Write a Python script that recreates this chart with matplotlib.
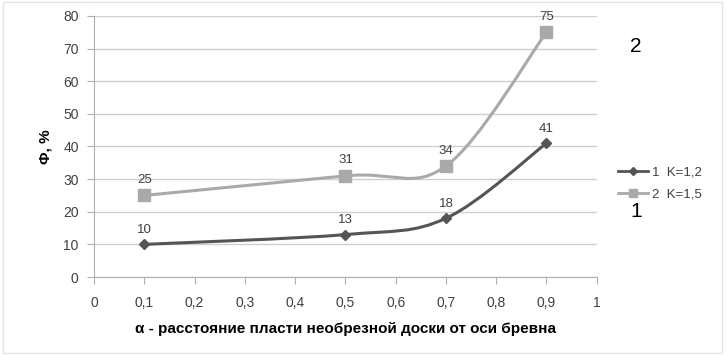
import numpy as np
import matplotlib.pyplot as plt
from matplotlib.path import Path
from matplotlib.patches import PathPatch, Rectangle
from matplotlib.lines import Line2D

plt.rcParams['font.family'] = ['Liberation Sans', 'DejaVu Sans']

x = [0.1, 0.5, 0.7, 0.9]
k12 = [10, 13, 18, 41]
k15 = [25, 31, 34, 75]
xticks = [0, 0.1, 0.2, 0.3, 0.4, 0.5, 0.6, 0.7, 0.8, 0.9, 1]
yticks = [0, 10, 20, 30, 40, 50, 60, 70, 80]


def smooth_path(xs, ys):
    """ Excel-like smoothed line as cubic bezier path """
    pts = np.column_stack([xs, ys]).astype(float)
    verts = [pts[0]]
    codes = [Path.MOVETO]
    n = len(pts)
    for i in range(n - 1):
        p0 = pts[i - 1] if i > 0 else pts[i]
        p1 = pts[i]
        p2 = pts[i + 1]
        p3 = pts[i + 2] if i + 2 < n else pts[i + 1]
        c1 = p1 + (p2 - p0) / 6
        c2 = p2 - (p3 - p1) / 6
        verts += [c1, c2, p2]
        codes += [Path.CURVE4] * 3
    return Path(verts, codes)


fig = plt.figure(figsize=(7.26, 3.55), dpi=100)
ax = fig.add_axes([0.1295, 0.2197, 0.6925, 0.7353])
fig.patches.append(Rectangle((0.004, 0.005), 0.99, 0.99, transform=fig.transFigure,
                             fill=False, edgecolor='#e4e4e4', lw=1))

c1, c2 = '#555555', '#a9a9a9'
ax.add_patch(PathPatch(smooth_path(x, k12), fill=False, edgecolor=c1, lw=2.2))
ax.add_patch(PathPatch(smooth_path(x, k15), fill=False, edgecolor=c2, lw=2.2))
ax.plot(x, k12, 'D', color=c1, ms=5.5, ls='None')
ax.plot(x, k15, 's', color=c2, ms=8, ls='None')

for xi, yi in zip(x, k12):
    ax.annotate(str(yi), (xi, yi), textcoords='offset points', xytext=(0, 8),
                ha='center', fontsize=9.5, color='#404040')
for xi, yi in zip(x, k15):
    ax.annotate(str(yi), (xi, yi), textcoords='offset points', xytext=(0, 9),
                ha='center', fontsize=9.5, color='#404040')

ax.set_xlim(0, 1)
ax.set_ylim(0, 80)
ax.set_xticks(xticks)
ax.set_xticklabels([str(t).replace('.', ',') for t in xticks])
ax.set_yticks(yticks)
ax.grid(axis='y', color='#cfcfcf', lw=1)
ax.set_axisbelow(True)
for s in ['top', 'right']:
    ax.spines[s].set_visible(False)
for s in ['left', 'bottom']:
    ax.spines[s].set_color('#b0b0b0')
ax.tick_params(colors='#b0b0b0', labelcolor='#404040', labelsize=10, length=5)
ax.tick_params(axis='x', pad=9)
ax.tick_params(axis='y', pad=6)

ax.set_ylabel('Φ, %', fontsize=11, fontweight='bold', labelpad=8)
ax.set_xlabel('α - расстояние пласти необрезной доски от оси бревна',
              fontsize=11, fontweight='bold', labelpad=8)

handles = [Line2D([], [], color=c1, lw=2, marker='D', ms=4),
           Line2D([], [], color=c2, lw=2, marker='s', ms=6)]
fig.legend(handles, ['1  K=1,2', '2  K=1,5'], loc='upper left',
           bbox_to_anchor=(0.835, 0.565), frameon=False, fontsize=9.5,
           handlelength=2.3, handletextpad=0.3, labelspacing=0.75, labelcolor='#404040')

fig.text(0.876, 0.868, '2', fontsize=15, ha='center', va='center')
fig.text(0.876, 0.405, '1', fontsize=15, ha='center', va='center')

fig.savefig('out.png', dpi=100)
